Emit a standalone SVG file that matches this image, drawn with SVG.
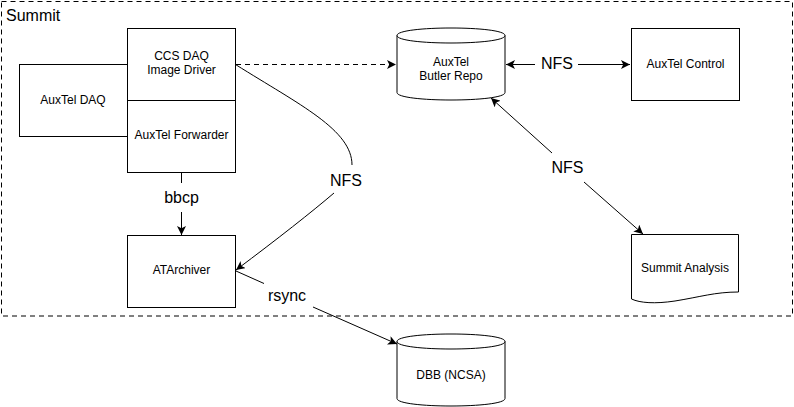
<svg xmlns="http://www.w3.org/2000/svg" width="794" height="407" viewBox="0 0 794 407">
<style>
.box{fill:#fff;stroke:#000;stroke-width:1}
.lbl{font-family:"Liberation Sans",Arial,sans-serif;font-size:12px;fill:#000;text-anchor:middle}
.big{font-family:"Liberation Sans",Arial,sans-serif;font-size:16px;fill:#000;text-anchor:middle}
.edge{fill:none;stroke:#000;stroke-width:1}
.dash{stroke-dasharray:5 4}
</style>
<defs>
<marker id="arr" viewBox="0 0 10 10" refX="10" refY="5" markerWidth="9" markerHeight="9" markerUnits="userSpaceOnUse" orient="auto">
<path d="M0,0 L10,5 L0,10 L2.5,5 Z" fill="#000"/>
</marker>
</defs>
<g id="summit">
<rect x="1.5" y="1.5" width="791" height="314.5" fill="none" stroke="#000" stroke-dasharray="5 4"/>
<text x="6" y="21" style="font-family:'Liberation Sans',Arial,sans-serif;font-size:16px">Summit</text>
</g>
<g id="auxtel-daq">
<rect class="box" x="19.5" y="64.5" width="108" height="72"/>
<text class="lbl" x="73" y="104">AuxTel DAQ</text>
</g>
<g id="ccs-daq">
<rect class="box" x="127.5" y="28.5" width="108" height="72"/>
<text class="lbl" x="181.5" y="60">CCS DAQ</text>
<text class="lbl" x="181.5" y="74">Image Driver</text>
</g>
<g id="auxtel-forwarder">
<rect class="box" x="127.5" y="100.5" width="108" height="72"/>
<text class="lbl" x="181.5" y="139">AuxTel Forwarder</text>
</g>
<g id="atarchiver">
<rect class="box" x="127.5" y="235.5" width="108" height="72"/>
<text class="lbl" x="181.5" y="274">ATArchiver</text>
</g>
<g id="butler-repo">
<path class="box" d="M397,35.5 C397,25.5 505,25.5 505,35.5 L505,92.5 C505,102.5 397,102.5 397,92.5 Z"/>
<path class="edge" d="M397,35.5 C397,45.5 505,45.5 505,35.5"/>
<text class="lbl" x="451" y="66">AuxTel</text>
<text class="lbl" x="451" y="80">Butler Repo</text>
</g>
<g id="auxtel-control">
<rect class="box" x="631.5" y="28.5" width="108" height="72"/>
<text class="lbl" x="685.5" y="68">AuxTel Control</text>
</g>
<g id="summit-analysis">
<path class="box" d="M631.5,234.5 L738.5,234.5 L738.5,292 C715,292 700,297 675,301 C655,304 640,303 631.5,299 Z"/>
<text class="lbl" x="685" y="272">Summit Analysis</text>
</g>
<g id="dbb">
<path class="box" d="M397,341.5 C397,331.5 505,331.5 505,341.5 L505,398.5 C505,408.5 397,408.5 397,398.5 Z"/>
<path class="edge" d="M397,341.5 C397,351.5 505,351.5 505,341.5"/>
<text class="lbl" x="451" y="379">DBB (NCSA)</text>
</g>
<g id="connectors">
<path class="edge dash" d="M236,64.5 L396,64.5" marker-end="url(#arr)"/>
<path class="edge" d="M535,64.5 L506,64.5" marker-end="url(#arr)"/>
<path class="edge" d="M578,64.5 L630,64.5" marker-end="url(#arr)"/>
<text class="big" x="557" y="69">NFS</text>
<path class="edge" d="M552,153 L491,98" marker-end="url(#arr)"/>
<path class="edge" d="M584,182 L643,234" marker-end="url(#arr)"/>
<text class="big" x="567.5" y="173">NFS</text>
<path class="edge" d="M181.5,172.5 L181.5,183"/>
<path class="edge" d="M181.5,212 L181.5,235" marker-end="url(#arr)"/>
<text class="big" x="181.5" y="203">bbcp</text>
<path class="edge" d="M235.5,64.5 C300,105 352,130 352,165"/>
<path class="edge" d="M334,193 Q300,222 236,270" marker-end="url(#arr)"/>
<text class="big" x="346" y="186">NFS</text>
<path class="edge" d="M236,271 L264,283.5"/>
<path class="edge" d="M313,307 L397,344" marker-end="url(#arr)"/>
<text class="big" x="287" y="301">rsync</text>
</g>
</svg>
